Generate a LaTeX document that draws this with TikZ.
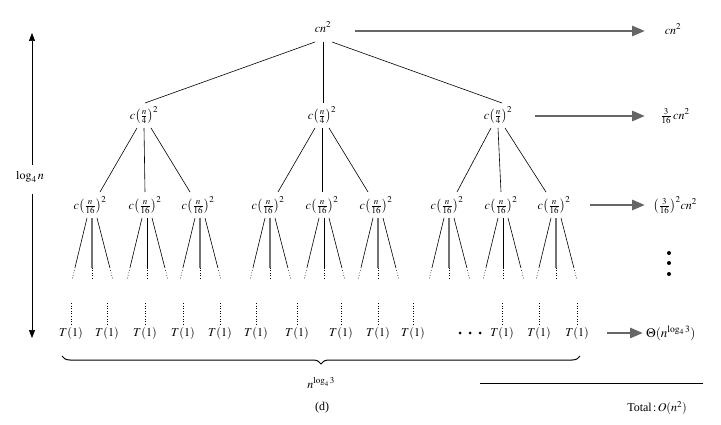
\documentclass[tikz,border=0pt]{standalone}
\usepackage{mathptmx}
\usepackage{fontspec}
\setmainfont{Liberation Serif}
\usetikzlibrary{arrows.meta,decorations.pathreplacing,calc}
\begin{document}
\begin{tikzpicture}[x=1pt,y=-1pt,
  font=\fontsize{12}{14}\selectfont,
  every node/.style={inner sep=0pt},
  edge/.style={black, line width=0.6pt},
  gedge/.style={black!55, line width=1.1pt},
  dotl/.style={dotted, line width=0.6pt},
  sumarrow/.style={draw=black!60, line width=2.8pt, -{Triangle[length=13pt,width=10pt,fill=black!60]}},
  hgt/.style={-{Triangle[length=8pt,width=6pt]}, line width=0.7pt}]
\useasboundingbox (0,0) rectangle (721,425);

% root and level 1
\node (r) at (323,27) {$cn^{2}$};
\node (a1) at (144,115) {$c\bigl(\frac{n}{4}\bigr)^{2}$};
\node (a2) at (322,115) {$c\bigl(\frac{n}{4}\bigr)^{2}$};
\node (a3) at (498,115) {$c\bigl(\frac{n}{4}\bigr)^{2}$};
\draw[edge] ($(r)+(-8,15)$) -- ($(a1)+(1,-12)$);
\draw[edge] ($(r)+(0,15)$) -- ($(a2)+(1,-12)$);
\draw[edge] ($(r)+(9,15)$) -- ($(a3)+(4,-12)$);

% level 2
\foreach \i/\x in {1/90,2/145,3/198,4/268,5/322,6/376,7/447,8/501,9/554}
  \node (b\i) at (\x,205) {$c\bigl(\frac{n}{16}\bigr)^{2}$};
\foreach \p/\l/\m/\q in {a1/b1/b2/b3, a2/b4/b5/b6, a3/b7/b8/b9}{
  \draw[edge] ($(\p)+(-7,13)$) -- ($(\l)+(10,-13)$);
  \draw[edge] ($(\p)+(0,13)$) -- ($(\m)+(0,-13)$);
  \draw[edge] ($(\p)+(7,13)$) -- ($(\q)+(-8,-13)$);
}

% level 3 branches (solid then dotted)
\foreach \b/\mid in {b1/gedge,b2/edge,b3/gedge,b4/gedge,b5/edge,b6/gedge,b7/gedge,b8/edge,b9/gedge}{
  \coordinate (L1) at ($(\b)+(-3,13)$);
  \coordinate (L2) at ($(\b)+(-18,75)$);
  \coordinate (M1) at ($(\b)+(2,13)$);
  \coordinate (M2) at ($(\b)+(2,75)$);
  \coordinate (R1) at ($(\b)+(7,13)$);
  \coordinate (R2) at ($(\b)+(23,75)$);
  \draw[edge] (L1) -- ($(L1)!0.8!(L2)$);
  \draw[dotl] ($(L1)!0.8!(L2)$) -- (L2);
  \draw[\mid] (M1) -- ($(M1)!0.8!(M2)$);
  \draw[dotl] ($(M1)!0.8!(M2)$) -- (M2);
  \draw[edge] (R1) -- ($(R1)!0.8!(R2)$);
  \draw[dotl] ($(R1)!0.8!(R2)$) -- (R2);
}

% leaves
\foreach \i/\x in {1/71,2/107,3/145,4/183,5/220,6/256,7/297,8/341,9/378,10/413,11/502,12/539,13/577}{
  \node (t\i) at (\x,333) {$T(1)$};
  \draw[dotl] ($(t\i)+(0,-30)$) -- ($(t\i)+(0,-8)$);
}
\foreach \x [count=\k] in {460,470,480}
  \fill (\x,333) circle (1.5) coordinate (dd\k);

% right column
\node (s0) at (673,29) {$cn^{2}$};
\node (s1) at (675,116) {$\frac{3}{16}\,cn^{2}$};
\node (s2) at (675,205) {$\bigl(\frac{3}{16}\bigr)^{2}cn^{2}$};
\node[anchor=west] (s3) at (646,333) {\fontsize{13}{15}\selectfont$\Theta(n^{\log_4 3})$};
\draw[sumarrow] ($(r)+(32,4)$) -- ($(s0)+(-28,2)$);
\draw[sumarrow] ($(a3)+(37,1)$) -- ($(s1)+(-30,0)$);
\draw[sumarrow] ($(b9)+(36,0)$) -- ($(s2)+(-30,0)$);
\draw[sumarrow] ($(t13)+(30,0)$) -- ($(s3.west)+(-3,0)$);
\foreach \y [count=\k] in {253,263,274}
  \fill (669,\y) circle (2) coordinate (vd\k);

% height arrow
\node (h) at (30,177) {$\log_4 n$};
\coordinate (htop) at (32,33);
\coordinate (hbot) at (32,338);
\draw[hgt] (32,165) -- (htop);
\draw[hgt] (32,194) -- (hbot);

% brace
\draw[decorate,decoration={brace,mirror,amplitude=8pt}, line width=1pt] (62,356) -- (580,356);
\node (nl) at (321,383) {$n^{\log_4 3}$};
\node (cap) at (322,408) {(d)};

% total
\coordinate (tl) at (480,383);
\coordinate (tr) at (703,383);
\draw[line width=0.7pt] (tl) -- (tr);
\node (tot) at (657,408) {Total$\,{:}\,O(n^{2})$};
\end{tikzpicture}
\end{document}
